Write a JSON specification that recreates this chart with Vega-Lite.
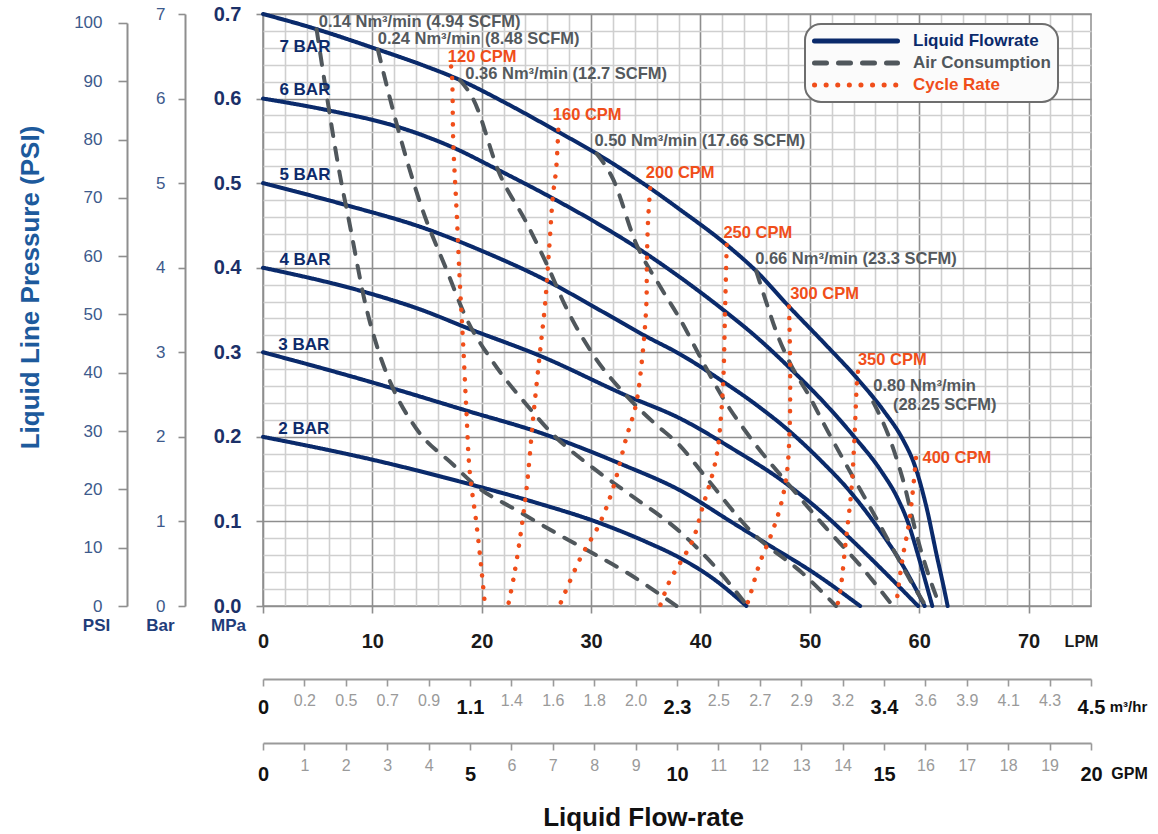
{
  "$schema": "https://vega.github.io/schema/vega-lite/v6.json",
  "width": 828,
  "height": 592,
  "autosize": {"type": "none"},
  "padding": {"left": 263, "top": 14, "right": 67, "bottom": 228},
  "background": "white",
  "config": {
    "font": "Liberation Sans",
    "view": {"stroke": "#8e8e8e", "strokeWidth": 1.5}
  },
  "datasets": {
    "curves": [
      {"curve":"7 BAR","type":"Liquid Flowrate","lpm":0,"mpa":0.700},
      {"curve":"7 BAR","type":"Liquid Flowrate","lpm":4.9,"mpa":0.682},
      {"curve":"7 BAR","type":"Liquid Flowrate","lpm":10.5,"mpa":0.658},
      {"curve":"7 BAR","type":"Liquid Flowrate","lpm":14.5,"mpa":0.640},
      {"curve":"7 BAR","type":"Liquid Flowrate","lpm":18.0,"mpa":0.622},
      {"curve":"7 BAR","type":"Liquid Flowrate","lpm":22.3,"mpa":0.594},
      {"curve":"7 BAR","type":"Liquid Flowrate","lpm":26.8,"mpa":0.562},
      {"curve":"7 BAR","type":"Liquid Flowrate","lpm":30.5,"mpa":0.535},
      {"curve":"7 BAR","type":"Liquid Flowrate","lpm":35.4,"mpa":0.494},
      {"curve":"7 BAR","type":"Liquid Flowrate","lpm":38.1,"mpa":0.469},
      {"curve":"7 BAR","type":"Liquid Flowrate","lpm":42.4,"mpa":0.427},
      {"curve":"7 BAR","type":"Liquid Flowrate","lpm":45.1,"mpa":0.396},
      {"curve":"7 BAR","type":"Liquid Flowrate","lpm":48.1,"mpa":0.354},
      {"curve":"7 BAR","type":"Liquid Flowrate","lpm":51.3,"mpa":0.311},
      {"curve":"7 BAR","type":"Liquid Flowrate","lpm":54.4,"mpa":0.268},
      {"curve":"7 BAR","type":"Liquid Flowrate","lpm":56.8,"mpa":0.230},
      {"curve":"7 BAR","type":"Liquid Flowrate","lpm":58.5,"mpa":0.197},
      {"curve":"7 BAR","type":"Liquid Flowrate","lpm":59.6,"mpa":0.166},
      {"curve":"7 BAR","type":"Liquid Flowrate","lpm":60.7,"mpa":0.115},
      {"curve":"7 BAR","type":"Liquid Flowrate","lpm":61.6,"mpa":0.060},
      {"curve":"7 BAR","type":"Liquid Flowrate","lpm":62.2,"mpa":0.025},
      {"curve":"7 BAR","type":"Liquid Flowrate","lpm":62.6,"mpa":0.0},
      {"curve":"6 BAR","type":"Liquid Flowrate","lpm":0,"mpa":0.600},
      {"curve":"6 BAR","type":"Liquid Flowrate","lpm":6,"mpa":0.586},
      {"curve":"6 BAR","type":"Liquid Flowrate","lpm":12.2,"mpa":0.567},
      {"curve":"6 BAR","type":"Liquid Flowrate","lpm":17.4,"mpa":0.542},
      {"curve":"6 BAR","type":"Liquid Flowrate","lpm":21.3,"mpa":0.517},
      {"curve":"6 BAR","type":"Liquid Flowrate","lpm":26.5,"mpa":0.482},
      {"curve":"6 BAR","type":"Liquid Flowrate","lpm":30.5,"mpa":0.453},
      {"curve":"6 BAR","type":"Liquid Flowrate","lpm":34.4,"mpa":0.422},
      {"curve":"6 BAR","type":"Liquid Flowrate","lpm":38.1,"mpa":0.389},
      {"curve":"6 BAR","type":"Liquid Flowrate","lpm":42.2,"mpa":0.349},
      {"curve":"6 BAR","type":"Liquid Flowrate","lpm":45.3,"mpa":0.316},
      {"curve":"6 BAR","type":"Liquid Flowrate","lpm":48.2,"mpa":0.281},
      {"curve":"6 BAR","type":"Liquid Flowrate","lpm":51.2,"mpa":0.242},
      {"curve":"6 BAR","type":"Liquid Flowrate","lpm":54.0,"mpa":0.201},
      {"curve":"6 BAR","type":"Liquid Flowrate","lpm":56.5,"mpa":0.160},
      {"curve":"6 BAR","type":"Liquid Flowrate","lpm":58.0,"mpa":0.128},
      {"curve":"6 BAR","type":"Liquid Flowrate","lpm":59.0,"mpa":0.098},
      {"curve":"6 BAR","type":"Liquid Flowrate","lpm":59.9,"mpa":0.060},
      {"curve":"6 BAR","type":"Liquid Flowrate","lpm":60.6,"mpa":0.028},
      {"curve":"6 BAR","type":"Liquid Flowrate","lpm":61.2,"mpa":0.0},
      {"curve":"5 BAR","type":"Liquid Flowrate","lpm":0,"mpa":0.500},
      {"curve":"5 BAR","type":"Liquid Flowrate","lpm":7.6,"mpa":0.474},
      {"curve":"5 BAR","type":"Liquid Flowrate","lpm":14.9,"mpa":0.446},
      {"curve":"5 BAR","type":"Liquid Flowrate","lpm":20,"mpa":0.420},
      {"curve":"5 BAR","type":"Liquid Flowrate","lpm":25.9,"mpa":0.385},
      {"curve":"5 BAR","type":"Liquid Flowrate","lpm":30.5,"mpa":0.352},
      {"curve":"5 BAR","type":"Liquid Flowrate","lpm":35,"mpa":0.319},
      {"curve":"5 BAR","type":"Liquid Flowrate","lpm":38.1,"mpa":0.298},
      {"curve":"5 BAR","type":"Liquid Flowrate","lpm":42.1,"mpa":0.265},
      {"curve":"5 BAR","type":"Liquid Flowrate","lpm":45.2,"mpa":0.237},
      {"curve":"5 BAR","type":"Liquid Flowrate","lpm":48.2,"mpa":0.206},
      {"curve":"5 BAR","type":"Liquid Flowrate","lpm":51,"mpa":0.172},
      {"curve":"5 BAR","type":"Liquid Flowrate","lpm":53.7,"mpa":0.135},
      {"curve":"5 BAR","type":"Liquid Flowrate","lpm":56.2,"mpa":0.093},
      {"curve":"5 BAR","type":"Liquid Flowrate","lpm":58.5,"mpa":0.048},
      {"curve":"5 BAR","type":"Liquid Flowrate","lpm":59.7,"mpa":0.020},
      {"curve":"5 BAR","type":"Liquid Flowrate","lpm":60.5,"mpa":0.0},
      {"curve":"4 BAR","type":"Liquid Flowrate","lpm":0,"mpa":0.400},
      {"curve":"4 BAR","type":"Liquid Flowrate","lpm":9.1,"mpa":0.372},
      {"curve":"4 BAR","type":"Liquid Flowrate","lpm":14.3,"mpa":0.351},
      {"curve":"4 BAR","type":"Liquid Flowrate","lpm":19.2,"mpa":0.326},
      {"curve":"4 BAR","type":"Liquid Flowrate","lpm":25.3,"mpa":0.296},
      {"curve":"4 BAR","type":"Liquid Flowrate","lpm":33.2,"mpa":0.249},
      {"curve":"4 BAR","type":"Liquid Flowrate","lpm":38.1,"mpa":0.222},
      {"curve":"4 BAR","type":"Liquid Flowrate","lpm":42.8,"mpa":0.187},
      {"curve":"4 BAR","type":"Liquid Flowrate","lpm":47.6,"mpa":0.147},
      {"curve":"4 BAR","type":"Liquid Flowrate","lpm":51,"mpa":0.112},
      {"curve":"4 BAR","type":"Liquid Flowrate","lpm":54.0,"mpa":0.076},
      {"curve":"4 BAR","type":"Liquid Flowrate","lpm":57.0,"mpa":0.038},
      {"curve":"4 BAR","type":"Liquid Flowrate","lpm":59.9,"mpa":0.0},
      {"curve":"3 BAR","type":"Liquid Flowrate","lpm":0,"mpa":0.300},
      {"curve":"3 BAR","type":"Liquid Flowrate","lpm":6,"mpa":0.279},
      {"curve":"3 BAR","type":"Liquid Flowrate","lpm":12.2,"mpa":0.256},
      {"curve":"3 BAR","type":"Liquid Flowrate","lpm":18.6,"mpa":0.231},
      {"curve":"3 BAR","type":"Liquid Flowrate","lpm":25.3,"mpa":0.205},
      {"curve":"3 BAR","type":"Liquid Flowrate","lpm":32.9,"mpa":0.167},
      {"curve":"3 BAR","type":"Liquid Flowrate","lpm":38.1,"mpa":0.137},
      {"curve":"3 BAR","type":"Liquid Flowrate","lpm":43,"mpa":0.098},
      {"curve":"3 BAR","type":"Liquid Flowrate","lpm":46.0,"mpa":0.074},
      {"curve":"3 BAR","type":"Liquid Flowrate","lpm":50.5,"mpa":0.038},
      {"curve":"3 BAR","type":"Liquid Flowrate","lpm":54.6,"mpa":0.0},
      {"curve":"2 BAR","type":"Liquid Flowrate","lpm":0,"mpa":0.200},
      {"curve":"2 BAR","type":"Liquid Flowrate","lpm":10,"mpa":0.173},
      {"curve":"2 BAR","type":"Liquid Flowrate","lpm":19.2,"mpa":0.143},
      {"curve":"2 BAR","type":"Liquid Flowrate","lpm":25,"mpa":0.122},
      {"curve":"2 BAR","type":"Liquid Flowrate","lpm":30.8,"mpa":0.098},
      {"curve":"2 BAR","type":"Liquid Flowrate","lpm":35,"mpa":0.076},
      {"curve":"2 BAR","type":"Liquid Flowrate","lpm":38.1,"mpa":0.057},
      {"curve":"2 BAR","type":"Liquid Flowrate","lpm":41.2,"mpa":0.032},
      {"curve":"2 BAR","type":"Liquid Flowrate","lpm":44.2,"mpa":0.0},
      {"curve":"A0.14","type":"Air Consumption","lpm":4.9,"mpa":0.682},
      {"curve":"A0.14","type":"Air Consumption","lpm":5.8,"mpa":0.606},
      {"curve":"A0.14","type":"Air Consumption","lpm":7.0,"mpa":0.512},
      {"curve":"A0.14","type":"Air Consumption","lpm":7.9,"mpa":0.453},
      {"curve":"A0.14","type":"Air Consumption","lpm":9.4,"mpa":0.355},
      {"curve":"A0.14","type":"Air Consumption","lpm":10.6,"mpa":0.300},
      {"curve":"A0.14","type":"Air Consumption","lpm":11.9,"mpa":0.257},
      {"curve":"A0.14","type":"Air Consumption","lpm":14.0,"mpa":0.210},
      {"curve":"A0.14","type":"Air Consumption","lpm":17.4,"mpa":0.167},
      {"curve":"A0.14","type":"Air Consumption","lpm":19.2,"mpa":0.145},
      {"curve":"A0.14","type":"Air Consumption","lpm":23.5,"mpa":0.111},
      {"curve":"A0.14","type":"Air Consumption","lpm":27.1,"mpa":0.084},
      {"curve":"A0.14","type":"Air Consumption","lpm":30.2,"mpa":0.062},
      {"curve":"A0.14","type":"Air Consumption","lpm":33.2,"mpa":0.040},
      {"curve":"A0.14","type":"Air Consumption","lpm":37.8,"mpa":0.0},
      {"curve":"A0.24","type":"Air Consumption","lpm":10.5,"mpa":0.658},
      {"curve":"A0.24","type":"Air Consumption","lpm":12.2,"mpa":0.571},
      {"curve":"A0.24","type":"Air Consumption","lpm":14.6,"mpa":0.468},
      {"curve":"A0.24","type":"Air Consumption","lpm":16.8,"mpa":0.397},
      {"curve":"A0.24","type":"Air Consumption","lpm":18.6,"mpa":0.340},
      {"curve":"A0.24","type":"Air Consumption","lpm":21.0,"mpa":0.289},
      {"curve":"A0.24","type":"Air Consumption","lpm":24.1,"mpa":0.238},
      {"curve":"A0.24","type":"Air Consumption","lpm":26.5,"mpa":0.203},
      {"curve":"A0.24","type":"Air Consumption","lpm":30.2,"mpa":0.163},
      {"curve":"A0.24","type":"Air Consumption","lpm":33.2,"mpa":0.135},
      {"curve":"A0.24","type":"Air Consumption","lpm":38.1,"mpa":0.088},
      {"curve":"A0.24","type":"Air Consumption","lpm":41.3,"mpa":0.047},
      {"curve":"A0.24","type":"Air Consumption","lpm":44.3,"mpa":0.0},
      {"curve":"A0.36","type":"Air Consumption","lpm":18.0,"mpa":0.622},
      {"curve":"A0.36","type":"Air Consumption","lpm":19.2,"mpa":0.600},
      {"curve":"A0.36","type":"Air Consumption","lpm":21.6,"mpa":0.512},
      {"curve":"A0.36","type":"Air Consumption","lpm":24.1,"mpa":0.453},
      {"curve":"A0.36","type":"Air Consumption","lpm":26.2,"mpa":0.397},
      {"curve":"A0.36","type":"Air Consumption","lpm":27.6,"mpa":0.356},
      {"curve":"A0.36","type":"Air Consumption","lpm":30.2,"mpa":0.297},
      {"curve":"A0.36","type":"Air Consumption","lpm":33.2,"mpa":0.249},
      {"curve":"A0.36","type":"Air Consumption","lpm":35.8,"mpa":0.216},
      {"curve":"A0.36","type":"Air Consumption","lpm":38.1,"mpa":0.190},
      {"curve":"A0.36","type":"Air Consumption","lpm":40.2,"mpa":0.157},
      {"curve":"A0.36","type":"Air Consumption","lpm":44.8,"mpa":0.086},
      {"curve":"A0.36","type":"Air Consumption","lpm":49.4,"mpa":0.038},
      {"curve":"A0.36","type":"Air Consumption","lpm":52.4,"mpa":0.0},
      {"curve":"A0.50","type":"Air Consumption","lpm":30.5,"mpa":0.535},
      {"curve":"A0.50","type":"Air Consumption","lpm":32.0,"mpa":0.505},
      {"curve":"A0.50","type":"Air Consumption","lpm":34.1,"mpa":0.429},
      {"curve":"A0.50","type":"Air Consumption","lpm":36.3,"mpa":0.378},
      {"curve":"A0.50","type":"Air Consumption","lpm":38.1,"mpa":0.340},
      {"curve":"A0.50","type":"Air Consumption","lpm":40.2,"mpa":0.289},
      {"curve":"A0.50","type":"Air Consumption","lpm":42.1,"mpa":0.245},
      {"curve":"A0.50","type":"Air Consumption","lpm":44.5,"mpa":0.200},
      {"curve":"A0.50","type":"Air Consumption","lpm":48.5,"mpa":0.137},
      {"curve":"A0.50","type":"Air Consumption","lpm":51.5,"mpa":0.092},
      {"curve":"A0.50","type":"Air Consumption","lpm":54.6,"mpa":0.048},
      {"curve":"A0.50","type":"Air Consumption","lpm":57.6,"mpa":0.0},
      {"curve":"A0.66","type":"Air Consumption","lpm":45.1,"mpa":0.396},
      {"curve":"A0.66","type":"Air Consumption","lpm":46.2,"mpa":0.352},
      {"curve":"A0.66","type":"Air Consumption","lpm":47.0,"mpa":0.322},
      {"curve":"A0.66","type":"Air Consumption","lpm":48.2,"mpa":0.287},
      {"curve":"A0.66","type":"Air Consumption","lpm":50.0,"mpa":0.247},
      {"curve":"A0.66","type":"Air Consumption","lpm":51.5,"mpa":0.210},
      {"curve":"A0.66","type":"Air Consumption","lpm":53.5,"mpa":0.163},
      {"curve":"A0.66","type":"Air Consumption","lpm":55.5,"mpa":0.117},
      {"curve":"A0.66","type":"Air Consumption","lpm":57.5,"mpa":0.070},
      {"curve":"A0.66","type":"Air Consumption","lpm":59.2,"mpa":0.030},
      {"curve":"A0.66","type":"Air Consumption","lpm":60.6,"mpa":0.0},
      {"curve":"A0.80","type":"Air Consumption","lpm":55.8,"mpa":0.241},
      {"curve":"A0.80","type":"Air Consumption","lpm":57.3,"mpa":0.198},
      {"curve":"A0.80","type":"Air Consumption","lpm":58.5,"mpa":0.150},
      {"curve":"A0.80","type":"Air Consumption","lpm":59.8,"mpa":0.082},
      {"curve":"A0.80","type":"Air Consumption","lpm":60.9,"mpa":0.035},
      {"curve":"A0.80","type":"Air Consumption","lpm":61.9,"mpa":0.0},
      {"curve":"C120","type":"Cycle Rate","lpm":17.2,"mpa":0.638},
      {"curve":"C120","type":"Cycle Rate","lpm":17.3,"mpa":0.622},
      {"curve":"C120","type":"Cycle Rate","lpm":17.4,"mpa":0.547},
      {"curve":"C120","type":"Cycle Rate","lpm":17.7,"mpa":0.468},
      {"curve":"C120","type":"Cycle Rate","lpm":18.0,"mpa":0.382},
      {"curve":"C120","type":"Cycle Rate","lpm":18.3,"mpa":0.310},
      {"curve":"C120","type":"Cycle Rate","lpm":18.6,"mpa":0.230},
      {"curve":"C120","type":"Cycle Rate","lpm":18.9,"mpa":0.159},
      {"curve":"C120","type":"Cycle Rate","lpm":19.5,"mpa":0.099},
      {"curve":"C120","type":"Cycle Rate","lpm":20.0,"mpa":0.040},
      {"curve":"C120","type":"Cycle Rate","lpm":20.3,"mpa":0.0},
      {"curve":"C160","type":"Cycle Rate","lpm":27.0,"mpa":0.563},
      {"curve":"C160","type":"Cycle Rate","lpm":26.8,"mpa":0.516},
      {"curve":"C160","type":"Cycle Rate","lpm":26.5,"mpa":0.484},
      {"curve":"C160","type":"Cycle Rate","lpm":26.2,"mpa":0.429},
      {"curve":"C160","type":"Cycle Rate","lpm":25.8,"mpa":0.358},
      {"curve":"C160","type":"Cycle Rate","lpm":25.3,"mpa":0.297},
      {"curve":"C160","type":"Cycle Rate","lpm":24.7,"mpa":0.222},
      {"curve":"C160","type":"Cycle Rate","lpm":24.1,"mpa":0.139},
      {"curve":"C160","type":"Cycle Rate","lpm":23.5,"mpa":0.080},
      {"curve":"C160","type":"Cycle Rate","lpm":22.9,"mpa":0.032},
      {"curve":"C160","type":"Cycle Rate","lpm":22.4,"mpa":0.0},
      {"curve":"C200","type":"Cycle Rate","lpm":35.4,"mpa":0.494},
      {"curve":"C200","type":"Cycle Rate","lpm":35.2,"mpa":0.453},
      {"curve":"C200","type":"Cycle Rate","lpm":35.1,"mpa":0.405},
      {"curve":"C200","type":"Cycle Rate","lpm":35.05,"mpa":0.356},
      {"curve":"C200","type":"Cycle Rate","lpm":34.7,"mpa":0.297},
      {"curve":"C200","type":"Cycle Rate","lpm":34.1,"mpa":0.238},
      {"curve":"C200","type":"Cycle Rate","lpm":33.2,"mpa":0.198},
      {"curve":"C200","type":"Cycle Rate","lpm":32.0,"mpa":0.139},
      {"curve":"C200","type":"Cycle Rate","lpm":30.8,"mpa":0.098},
      {"curve":"C200","type":"Cycle Rate","lpm":29.0,"mpa":0.056},
      {"curve":"C200","type":"Cycle Rate","lpm":27.1,"mpa":0.0},
      {"curve":"C250","type":"Cycle Rate","lpm":42.4,"mpa":0.427},
      {"curve":"C250","type":"Cycle Rate","lpm":42.25,"mpa":0.350},
      {"curve":"C250","type":"Cycle Rate","lpm":42.1,"mpa":0.271},
      {"curve":"C250","type":"Cycle Rate","lpm":41.9,"mpa":0.228},
      {"curve":"C250","type":"Cycle Rate","lpm":41.6,"mpa":0.188},
      {"curve":"C250","type":"Cycle Rate","lpm":41.2,"mpa":0.161},
      {"curve":"C250","type":"Cycle Rate","lpm":40.2,"mpa":0.117},
      {"curve":"C250","type":"Cycle Rate","lpm":39.3,"mpa":0.078},
      {"curve":"C250","type":"Cycle Rate","lpm":38.1,"mpa":0.050},
      {"curve":"C250","type":"Cycle Rate","lpm":37.2,"mpa":0.030},
      {"curve":"C250","type":"Cycle Rate","lpm":36.3,"mpa":0.0},
      {"curve":"C300","type":"Cycle Rate","lpm":48.1,"mpa":0.354},
      {"curve":"C300","type":"Cycle Rate","lpm":48.2,"mpa":0.283},
      {"curve":"C300","type":"Cycle Rate","lpm":48.15,"mpa":0.208},
      {"curve":"C300","type":"Cycle Rate","lpm":47.9,"mpa":0.157},
      {"curve":"C300","type":"Cycle Rate","lpm":47.3,"mpa":0.117},
      {"curve":"C300","type":"Cycle Rate","lpm":46.4,"mpa":0.082},
      {"curve":"C300","type":"Cycle Rate","lpm":45.4,"mpa":0.050},
      {"curve":"C300","type":"Cycle Rate","lpm":44.5,"mpa":0.011},
      {"curve":"C300","type":"Cycle Rate","lpm":44.2,"mpa":0.0},
      {"curve":"C350","type":"Cycle Rate","lpm":54.4,"mpa":0.277},
      {"curve":"C350","type":"Cycle Rate","lpm":54.3,"mpa":0.263},
      {"curve":"C350","type":"Cycle Rate","lpm":54.1,"mpa":0.204},
      {"curve":"C350","type":"Cycle Rate","lpm":53.8,"mpa":0.137},
      {"curve":"C350","type":"Cycle Rate","lpm":53.3,"mpa":0.078},
      {"curve":"C350","type":"Cycle Rate","lpm":52.8,"mpa":0.019},
      {"curve":"C350","type":"Cycle Rate","lpm":52.5,"mpa":0.0},
      {"curve":"C400","type":"Cycle Rate","lpm":59.7,"mpa":0.175},
      {"curve":"C400","type":"Cycle Rate","lpm":59.6,"mpa":0.160},
      {"curve":"C400","type":"Cycle Rate","lpm":59.1,"mpa":0.101},
      {"curve":"C400","type":"Cycle Rate","lpm":58.5,"mpa":0.058},
      {"curve":"C400","type":"Cycle Rate","lpm":58.1,"mpa":0.022},
      {"curve":"C400","type":"Cycle Rate","lpm":57.9,"mpa":0.0}
    ],
    "barLabels": [
      {"label":"7 BAR","lpm":1.5,"mpa":0.661},
      {"label":"6 BAR","lpm":1.5,"mpa":0.610},
      {"label":"5 BAR","lpm":1.5,"mpa":0.510},
      {"label":"4 BAR","lpm":1.5,"mpa":0.409},
      {"label":"3 BAR","lpm":1.4,"mpa":0.309},
      {"label":"2 BAR","lpm":1.4,"mpa":0.209}
    ],
    "airLabels": [
      {"label":"0.14 Nm³/min (4.94 SCFM)","lpm":5.1,"mpa":0.691},
      {"label":"0.24 Nm³/min (8.48 SCFM)","lpm":10.5,"mpa":0.670},
      {"label":"0.36 Nm³/min (12.7 SCFM)","lpm":18.5,"mpa":0.6285},
      {"label":"0.50 Nm³/min (17.66 SCFM)","lpm":30.3,"mpa":0.550},
      {"label":"0.66 Nm³/min (23.3 SCFM)","lpm":45.0,"mpa":0.410},
      {"label":"0.80 Nm³/min","lpm":55.8,"mpa":0.260},
      {"label":"(28.25 SCFM)","lpm":57.6,"mpa":0.238}
    ],
    "cycleLabels": [
      {"label":"120 CPM","lpm":16.9,"mpa":0.6494},
      {"label":"160 CPM","lpm":26.5,"mpa":0.581},
      {"label":"200 CPM","lpm":35.0,"mpa":0.512},
      {"label":"250 CPM","lpm":42.1,"mpa":0.441},
      {"label":"300 CPM","lpm":48.2,"mpa":0.369},
      {"label":"350 CPM","lpm":54.4,"mpa":0.291},
      {"label":"400 CPM","lpm":60.3,"mpa":0.175}
    ],
    "psiTicks": [{"psi":0},{"psi":100}],
    "barTicks": [{"bar":0},{"bar":7}],
    "gpmTicks": [{"gpm":0},{"gpm":20}],
    "titleAnchor": [{"a":0}]
  },
  "layer": [
    {
      "encoding": {
        "x": {
          "field": "lpm", "type": "quantitative",
          "scale": {"domain": [0, 75.71], "nice": false, "zero": false},
          "axis": {
            "orient": "bottom",
            "values": [0,2,4,6,8,10,12,14,16,18,20,22,24,26,28,30,32,34,36,38,40,42,44,46,48,50,52,54,56,58,60,62,64,66,68,70,72,74],
            "grid": true,
            "gridColor": {"condition": {"test": "datum.value % 10 === 0", "value": "#8e8e8e"}, "value": "#cfcfcf"},
            "gridWidth": 1.6,
            "domain": false,
            "tickSize": 7,
            "tickColor": "#8e8e8e",
            "tickWidth": 1.6,
            "tickOpacity": {"condition": {"test": "datum.value % 10 === 0", "value": 1}, "value": 0},
            "labelExpr": "datum.value % 10 === 0 ? datum.label : ''",
            "labelFontSize": 20, "labelFontWeight": "bold", "labelColor": "#1a1a1a",
            "labelBaseline": "middle", "labelPadding": 28,
            "labelFlush": false, "labelOverlap": false, "labelBound": false,
            "title": "LPM", "titleX": 818, "titleY": 35, "titleAngle": 0,
            "titleAlign": "center", "titleBaseline": "middle",
            "titleFontSize": 16, "titleFontWeight": "bold", "titleColor": "#1a1a1a"
          }
        },
        "y": {
          "field": "mpa", "type": "quantitative",
          "scale": {"domain": [0, 0.7], "nice": false, "zero": false},
          "axis": {
            "orient": "left",
            "values": [0,0.02,0.04,0.06,0.08,0.1,0.12,0.14,0.16,0.18,0.2,0.22,0.24,0.26,0.28,0.3,0.32,0.34,0.36,0.38,0.4,0.42,0.44,0.46,0.48,0.5,0.52,0.54,0.56,0.58,0.6,0.62,0.64,0.66,0.68,0.7],
            "grid": true,
            "gridColor": {"condition": {"test": "abs(datum.value*10 - round(datum.value*10)) < 0.001", "value": "#8e8e8e"}, "value": "#cfcfcf"},
            "gridWidth": 1.6,
            "domain": false,
            "tickSize": 7,
            "tickColor": "#8e8e8e",
            "tickWidth": 1.6,
            "tickOpacity": {"condition": {"test": "abs(datum.value*10 - round(datum.value*10)) < 0.001", "value": 1}, "value": 0},
            "labelExpr": "abs(datum.value*10 - round(datum.value*10)) < 0.001 ? format(datum.value, '.1f') : ''",
            "labelFontSize": 20, "labelFontWeight": "bold", "labelColor": "#1b3068",
            "labelPadding": 15,
            "labelFlush": false, "labelOverlap": false, "labelBound": false,
            "title": "MPa", "titleX": -35, "titleY": 611, "titleAngle": 0,
            "titleAlign": "center", "titleBaseline": "middle",
            "titleFontSize": 17, "titleFontWeight": "bold", "titleColor": "#1f3d7a"
          }
        }
      },
      "layer": [
        {
          "data": {"name": "curves"},
          "transform": [{"filter": "datum.type !== 'Cycle Rate'"}],
          "mark": {"type": "line", "interpolate": "monotone", "strokeWidth": 4, "strokeCap": "round", "strokeJoin": "round"},
          "encoding": {
            "color": {
              "field": "type", "type": "nominal",
              "scale": {"domain": ["Liquid Flowrate", "Air Consumption", "Cycle Rate"], "range": ["#0a2a6b", "#50575c", "#f04e1a"]},
              "legend": {
                "orient": "none", "legendX": 542, "legendY": 10, "title": null,
                "direction": "vertical",
                "symbolType": "stroke", "symbolSize": 6889, "symbolStrokeWidth": 5,
                "clipHeight": 20, "rowPadding": 2,
                "labelFontSize": 17, "labelFontWeight": "bold", "labelOffset": 13,
                "labelExpr": "datum.label + '\u00a0\u00a0\u00a0\u00a0'",
                "padding": 7, "cornerRadius": 16, "strokeColor": "#6e6e6e", "fillColor": "#fbfbfb",
                "encode": {
                  "symbols": {"update": {"strokeCap": {"value": "round"}}},
                  "labels": {"update": {"fill": {"signal": "datum.value === 'Liquid Flowrate' ? '#0a2a6b' : datum.value === 'Air Consumption' ? '#50575c' : '#f04e1a'"}}},
                  "legend": {"update": {"strokeWidth": {"value": 2}}}
                }
              }
            },
            "strokeDash": {
              "field": "type", "type": "nominal",
              "scale": {"domain": ["Liquid Flowrate", "Air Consumption", "Cycle Rate"], "range": [[1, 0], [12, 12], [0.1, 11.5]]},
              "legend": {
                "orient": "none", "legendX": 542, "legendY": 10, "title": null,
                "direction": "vertical",
                "symbolType": "stroke", "symbolSize": 6889, "symbolStrokeWidth": 5,
                "clipHeight": 20, "rowPadding": 2,
                "labelFontSize": 17, "labelFontWeight": "bold", "labelOffset": 13,
                "labelExpr": "datum.label + '\u00a0\u00a0\u00a0\u00a0'",
                "padding": 7, "cornerRadius": 16, "strokeColor": "#6e6e6e", "fillColor": "#fbfbfb",
                "encode": {
                  "symbols": {"update": {"strokeCap": {"value": "round"}}},
                  "labels": {"update": {"fill": {"signal": "datum.value === 'Liquid Flowrate' ? '#0a2a6b' : datum.value === 'Air Consumption' ? '#50575c' : '#f04e1a'"}}},
                  "legend": {"update": {"strokeWidth": {"value": 2}}}
                }
              }
            },
            "detail": {"field": "curve", "type": "nominal"},
            "order": {"field": "mpa", "sort": "descending"}
          }
        },
        {
          "data": {"name": "curves"},
          "transform": [{"filter": "datum.type === 'Cycle Rate'"}],
          "mark": {"type": "line", "interpolate": "catmull-rom", "strokeWidth": 4.5, "strokeCap": "round", "strokeJoin": "round"},
          "encoding": {
            "color": {"field": "type", "type": "nominal"},
            "strokeDash": {"field": "type", "type": "nominal"},
            "detail": {"field": "curve", "type": "nominal"},
            "order": {"field": "mpa", "sort": "descending"}
          }
        },
        {
          "data": {"name": "barLabels"},
          "mark": {"type": "text", "align": "left", "baseline": "middle", "fontSize": 17, "fontWeight": "bold", "color": "#0d2a6a"},
          "encoding": {"text": {"field": "label"}}
        },
        {
          "data": {"name": "airLabels"},
          "mark": {"type": "text", "align": "left", "baseline": "middle", "fontSize": 16.5, "fontWeight": "bold", "color": "#54595d"},
          "encoding": {"text": {"field": "label"}}
        },
        {
          "data": {"name": "cycleLabels"},
          "mark": {"type": "text", "align": "left", "baseline": "middle", "fontSize": 16.5, "fontWeight": "bold", "color": "#f04e1a"},
          "encoding": {"text": {"field": "label"}}
        }
      ]
    },
    {
      "data": {"name": "psiTicks"},
      "mark": {"type": "point", "opacity": 0},
      "encoding": {
        "y": {
          "field": "psi", "type": "quantitative",
          "scale": {"domain": [0, 100], "range": [592, 8.9], "nice": false, "zero": false},
          "axis": {
            "orient": "left", "offset": 136,
            "values": [0,10,20,30,40,50,60,70,80,90,100],
            "grid": false,
            "domainColor": "#8e8e8e", "domainWidth": 2,
            "tickSize": 9, "tickColor": "#8e8e8e", "tickWidth": 1.6,
            "labelFontSize": 17, "labelColor": "#3d5a8c", "labelPadding": 16,
            "labelFlush": false, "labelOverlap": false, "labelBound": false,
            "title": "PSI", "titleX": -31, "titleY": 611, "titleAngle": 0,
            "titleAlign": "center", "titleBaseline": "middle",
            "titleFontSize": 17, "titleFontWeight": "bold", "titleColor": "#1f3d7a"
          }
        }
      }
    },
    {
      "data": {"name": "barTicks"},
      "mark": {"type": "point", "opacity": 0},
      "encoding": {
        "y": {
          "field": "bar", "type": "quantitative",
          "scale": {"domain": [0, 7], "nice": false, "zero": false},
          "axis": {
            "orient": "left", "offset": 78,
            "values": [0,1,2,3,4,5,6,7],
            "grid": false,
            "domainColor": "#8e8e8e", "domainWidth": 2,
            "tickSize": 7, "tickColor": "#8e8e8e", "tickWidth": 1.6,
            "labelFontSize": 17, "labelColor": "#3d5a8c", "labelPadding": 13,
            "labelFlush": false, "labelOverlap": false, "labelBound": false,
            "title": "Bar", "titleX": -25, "titleY": 611, "titleAngle": 0,
            "titleAlign": "center", "titleBaseline": "middle",
            "titleFontSize": 17, "titleFontWeight": "bold", "titleColor": "#1f3d7a"
          }
        }
      }
    },
    {
      "data": {"name": "gpmTicks"},
      "mark": {"type": "point", "opacity": 0},
      "encoding": {
        "x": {
          "field": "gpm", "type": "quantitative",
          "scale": {"domain": [0, 20], "nice": false, "zero": false},
          "axis": {
            "orient": "bottom", "offset": 73,
            "values": [0,1,2,3,4,5,6,7,8,9,10,11,12,13,14,15,16,17,18,19,20],
            "grid": false,
            "domainColor": "#9a9a9a", "domainWidth": 2,
            "tickSize": 7, "tickColor": "#9a9a9a", "tickWidth": 1.6,
            "labelExpr": "['0','0.2','0.5','0.7','0.9','1.1','1.4','1.6','1.8','2.0','2.3','2.5','2.7','2.9','3.2','3.4','3.6','3.9','4.1','4.3','4.5'][datum.value]",
            "labelBaseline": "middle",
            "labelPadding": {"condition": {"test": "datum.value % 5 === 0", "value": 21}, "value": 14},
            "labelFontSize": {"condition": {"test": "datum.value % 5 === 0", "value": 20}, "value": 16},
            "labelFontWeight": {"condition": {"test": "datum.value % 5 === 0", "value": "bold"}, "value": "normal"},
            "labelColor": {"condition": {"test": "datum.value % 5 === 0", "value": "#111111"}, "value": "#9a9a9a"},
            "labelFlush": false, "labelOverlap": false, "labelBound": false,
            "title": "m³/hr", "titleX": 865, "titleY": 27, "titleAngle": 0,
            "titleAlign": "center", "titleBaseline": "middle",
            "titleFontSize": 15, "titleFontWeight": "bold", "titleColor": "#111111"
          }
        }
      }
    },
    {
      "data": {"name": "gpmTicks"},
      "mark": {"type": "point", "opacity": 0},
      "encoding": {
        "x": {
          "field": "gpm", "type": "quantitative",
          "scale": {"domain": [0, 20], "nice": false, "zero": false},
          "axis": {
            "orient": "bottom", "offset": 137,
            "values": [0,1,2,3,4,5,6,7,8,9,10,11,12,13,14,15,16,17,18,19,20],
            "grid": false,
            "domainColor": "#9a9a9a", "domainWidth": 2,
            "tickSize": 7, "tickColor": "#9a9a9a", "tickWidth": 1.6,
            "format": "d",
            "labelBaseline": "middle",
            "labelPadding": {"condition": {"test": "datum.value % 5 === 0", "value": 24}, "value": 15},
            "labelFontSize": {"condition": {"test": "datum.value % 5 === 0", "value": 20}, "value": 16},
            "labelFontWeight": {"condition": {"test": "datum.value % 5 === 0", "value": "bold"}, "value": "normal"},
            "labelColor": {"condition": {"test": "datum.value % 5 === 0", "value": "#111111"}, "value": "#9a9a9a"},
            "labelFlush": false, "labelOverlap": false, "labelBound": false,
            "title": "GPM", "titleX": 866, "titleY": 30, "titleAngle": 0,
            "titleAlign": "center", "titleBaseline": "middle",
            "titleFontSize": 16, "titleFontWeight": "bold", "titleColor": "#111111"
          }
        }
      }
    },
    {
      "data": {"name": "titleAnchor"},
      "mark": {"type": "point", "opacity": 0},
      "encoding": {
        "x": {
          "field": "a", "type": "quantitative",
          "scale": {"domain": [0, 1]},
          "axis": {
            "orient": "bottom", "offset": 0, "grid": false, "domain": false, "ticks": false, "labels": false,
            "title": "Liquid Flow-rate", "titleX": 380, "titleY": 211, "titleAngle": 0,
            "titleAlign": "center", "titleBaseline": "middle",
            "titleFontSize": 26, "titleFontWeight": "bold", "titleColor": "#111111"
          }
        },
        "y": {
          "field": "a", "type": "quantitative",
          "scale": {"domain": [0, 1]},
          "axis": {
            "orient": "left", "offset": 0, "grid": false, "domain": false, "ticks": false, "labels": false,
            "title": "Liquid Line Pressure (PSI)", "titleX": -233, "titleY": 273, "titleAngle": -90,
            "titleAlign": "center", "titleBaseline": "middle",
            "titleFontSize": 26, "titleFontWeight": "bold", "titleColor": "#1d5a9c"
          }
        }
      }
    }
  ],
  "resolve": {
    "scale": {"x": "independent", "y": "independent"},
    "axis": {"x": "independent", "y": "independent"}
  }
}
